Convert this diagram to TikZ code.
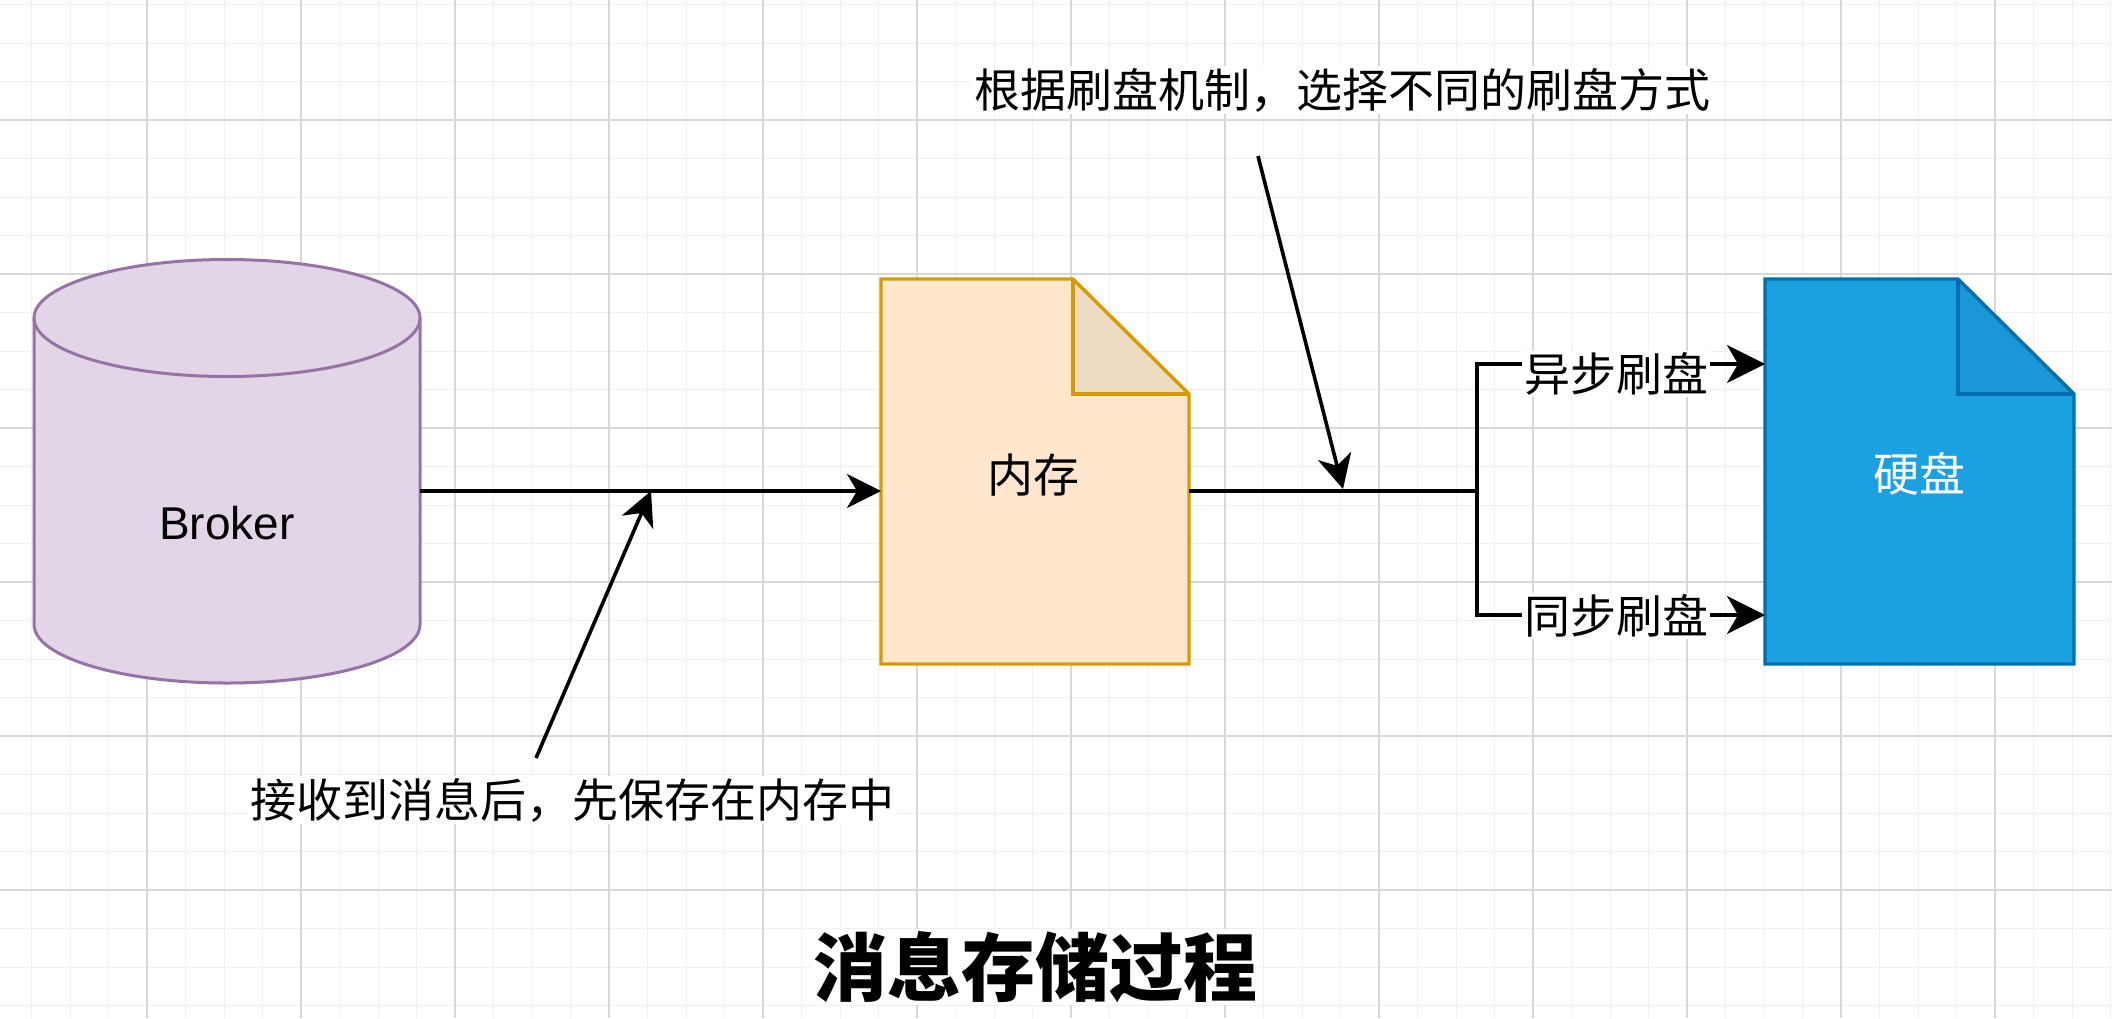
\documentclass[tikz,border=0pt]{standalone}
\usepackage{fontspec}
\setmainfont{Liberation Sans}
\newfontfamily\cjk{Noto Sans CJK SC}
\usetikzlibrary{arrows.meta,calc}
\definecolor{gridminor}{HTML}{F0F0F0}
\definecolor{gridmajor}{HTML}{D8D8D8}
\definecolor{cylfill}{HTML}{E1D5E7}
\definecolor{cylline}{HTML}{9673A6}
\definecolor{memfill}{HTML}{FFE6CC}
\definecolor{memfold}{HTML}{EFDAC2}
\definecolor{memline}{HTML}{D79B00}
\definecolor{diskfill}{HTML}{1BA1E2}
\definecolor{diskfold}{HTML}{1A97D6}
\definecolor{diskline}{HTML}{006EAF}
\begin{document}
\begin{tikzpicture}[x=0.5pt,y=-0.5pt,
  hold/.style={inner sep=0pt,outer sep=0pt,draw=none},
  conn/.style={line width=1.8pt,black},
  arr/.style={conn,-{Stealth[length=17pt,width=17pt,inset=5pt]}},
  arrB/.style={conn,-{Stealth[length=19pt,width=19pt,inset=5.5pt]}},
  txt/.style={inner sep=0pt,font=\fontsize{23pt}{27pt}\selectfont},
  lbl/.style={inner sep=1pt,fill=white,font=\cjk\fontsize{23pt}{27pt}\selectfont},
  titlesty/.style={inner sep=1pt,fill=white,font=\cjk\bfseries\fontsize{37pt}{40pt}\selectfont}
]
\useasboundingbox (0,0) rectangle (2112,1018);
\fill[white] (0,0) rectangle (2112,1018);
\begin{scope}
\clip (0,0) rectangle (2112,1018);
\foreach \i in {0,...,54} \draw[gridminor,line width=0.5pt] ({31.5+38.5*\i},0) -- ({31.5+38.5*\i},1018);
\foreach \j in {0,...,26} \draw[gridminor,line width=0.5pt] (0,{4.5+38.5*\j}) -- (2112,{4.5+38.5*\j});
\foreach \i in {0,...,14} \draw[gridmajor,line width=0.55pt] ({-7+154*\i},0) -- ({-7+154*\i},1018);
\foreach \j in {0,...,7} \draw[gridmajor,line width=0.55pt] (0,{-34+154*\j}) -- (2112,{-34+154*\j});
\end{scope}

% shape holders
\node[hold,minimum width=193pt,minimum height=211.5pt] (broker) at (227,471.5) {};
\node[hold,minimum width=154pt,minimum height=192.5pt] (mem) at (1035,471.5) {};
\node[hold,minimum width=154.5pt,minimum height=192.5pt] (disk) at (1919.5,471.5) {};

% cylinder
\filldraw[fill=cylfill,draw=cylline,line width=1.5pt]
  (34,318) -- (34,624.5) arc[start angle=180,end angle=360,x radius=96.5pt,y radius=29.25pt]
  -- (420,318) arc[start angle=0,end angle=180,x radius=96.5pt,y radius=29.25pt] -- cycle;
\draw[cylline,line width=1.5pt] (34,318) arc[start angle=180,end angle=360,x radius=96.5pt,y radius=29.25pt];

% memory document
\fill[memfill] (881,279) -- (1073,279) -- (1189,394) -- (1189,664) -- (881,664) -- cycle;
\fill[memfold] (1073,279) -- (1073,394) -- (1189,394) -- cycle;
\draw[memline,line width=1.7pt] (1073,279) -- (1073,394) -- (1189,394);
\draw[memline,line width=1.7pt] (881,279) -- (1073,279) -- (1189,394) -- (1189,664) -- (881,664) -- cycle;

% disk document
\fill[diskfill] (1765,279) -- (1958,279) -- (2074,394) -- (2074,664) -- (1765,664) -- cycle;
\fill[diskfold] (1958,279) -- (1958,394) -- (2074,394) -- cycle;
\draw[diskline,line width=1.7pt] (1958,279) -- (1958,394) -- (2074,394);
\draw[diskline,line width=1.7pt] (1765,279) -- (1958,279) -- (2074,394) -- (2074,664) -- (1765,664) -- cycle;

% texts in shapes
\node[txt] (brokerlbl) at (227,523) {Broker};
\node[txt,font=\cjk\fontsize{23pt}{27pt}\selectfont] (memlbl) at (1033,475) {内存};
\node[txt,font=\cjk\fontsize{23pt}{27pt}\selectfont,text=white] (disklbl) at (1919,474) {硬盘};

% connectors
\coordinate (jy) at (0,491);
\coordinate (br) at (1477,491);
\coordinate (topy) at (0,364);
\coordinate (boty) at (0,615);
\draw[arr] (broker.east |- jy) -- (mem.west |- jy);
\draw[conn] (mem.east |- jy) -- (br);
\draw[arrB] (br) |- (disk.west |- topy);
\draw[arrB] (br) |- (disk.west |- boty);
\node[lbl] (async) at (1616,374) {异步刷盘};
\node[lbl] (sync) at (1616,616) {同步刷盘};

% annotations
\node[lbl] (note1) at (572.6,800) {接收到消息后，先保存在内存中};
\node[lbl] (note2) at (1342,90) {根据刷盘机制，选择不同的刷盘方式};
\coordinate (n1s) at (536,758);
\coordinate (j1) at (651,491);
\coordinate (n2s) at (1258,156);
\coordinate (j2) at (1343,489);
\draw[arr] (n1s) -- (j1);
\draw[arr] (n2s) -- (j2);

% title
\node[titlesty] (title) at (1035,967) {消息存储过程};
\end{tikzpicture}
\end{document}
